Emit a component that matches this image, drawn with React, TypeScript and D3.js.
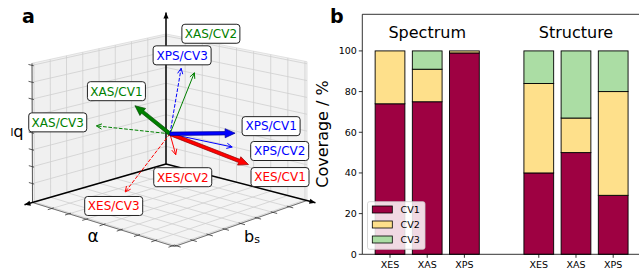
import React from "react";
import * as d3 from "d3";

// ---------------- Panel b data ----------------
const groupTitles = ["Spectrum", "Structure"];
const groupCenterSlots = [1, 5];
const methods = ["XES", "XAS", "XPS", "XES", "XAS", "XPS"];
const barSlots = [0, 1, 2, 4, 5, 6];
const cvNames = ["CV1", "CV2", "CV3"];
const cv1 = [74, 75, 99, 40, 50, 29];
const cv2 = [26, 16, 1, 44, 17, 51];
const cv3 = [0, 9, 0, 16, 33, 20];
const yTicks = [0, 20, 40, 60, 80, 100];
const cvColors = ["#9e0142", "#fee08b", "#abdda4"];

// ---------------- Panel a data ----------------
const vecLabels = ["XES/CV1", "XES/CV2", "XES/CV3", "XAS/CV1", "XAS/CV2", "XAS/CV3", "XPS/CV1", "XPS/CV2", "XPS/CV3"];
const vecAlpha = [0.89, 0.15, 0.10, -0.49, 0.14, -0.77, 0.77, 0.84, -0.10];
const vecBs = [-0.27, 0.07, 0.80, 0.02, -0.23, 0.32, -0.19, -0.07, -0.28];
const vecBl = [-0.30, -0.25, -0.60, 0.30, 0.88, 0.0, 0.15, 0.0, 0.88];
const vecCV = [1, 2, 3, 1, 2, 3, 1, 2, 3];
const gridTicks3d = [-0.75, -0.5, -0.25, 0, 0.25, 0.5, 0.75, 1.0];

// ---------------- layout ----------------
const W = 639, H = 269;
const FONT = "DejaVu Sans, Liberation Sans, sans-serif";
const specColors: Record<string, string> = { XES: "#ff0000", XAS: "#008000", XPS: "#0000ff" };
// label-box offsets (px) from arrow tips
const labelOffsets = [[31.5, 12.5], [7, 22.5], [-11.5, 14], [-18.5, -14.5], [16.5, -39], [-38.5, -3.5], [36, -7], [47.5, 4], [1, -13]];

// screen corners of the 3D box: p[a][b][c]
const BOX: Record<string, number[]> = {
  p000: [166, 164], p100: [32.5, 202.5], p010: [307, 200.5], p110: [174.5, 246.5],
  p001: [166, 34], p101: [32, 63.3], p011: [307, 61.7], p111: [174.5, 98],
};
const L = (p: number[], q: number[], t: number) => [p[0] + (q[0] - p[0]) * t, p[1] + (q[1] - p[1]) * t];
function tri(a: number, b: number, c: number) {
  const x00 = L(BOX.p000, BOX.p100, a), x10 = L(BOX.p010, BOX.p110, a);
  const x01 = L(BOX.p001, BOX.p101, a), x11 = L(BOX.p011, BOX.p111, a);
  return L(L(x00, x10, b), L(x01, x11, b), c);
}
const s3 = d3.scaleLinear().domain([-1.03, 1.03]).range([0, 1]);
const proj = (alpha: number, bs: number, bl: number) => tri(s3(bs), s3(alpha), s3(bl));

const P = (pts: number[][]) => "M" + pts.map((p) => p[0].toFixed(2) + "," + p[1].toFixed(2)).join("L");

function thickArrowPath(S: number[], T: number[], hl = 10, hw = 4.5, sw = 1.7) {
  const dx = T[0] - S[0], dy = T[1] - S[1];
  const len = Math.hypot(dx, dy);
  const ux = dx / len, uy = dy / len, nx = -uy, ny = ux;
  const B = [T[0] - ux * hl, T[1] - uy * hl];
  return P([
    [S[0] + nx * sw, S[1] + ny * sw], [B[0] + nx * sw, B[1] + ny * sw], [B[0] + nx * hw, B[1] + ny * hw], T,
    [B[0] - nx * hw, B[1] - ny * hw], [B[0] - nx * sw, B[1] - ny * sw], [S[0] - nx * sw, S[1] - ny * sw],
  ]) + "Z";
}
function headLines(S: number[], T: number[], hl = 5.5, hw = 2.6) {
  const dx = T[0] - S[0], dy = T[1] - S[1];
  const len = Math.hypot(dx, dy);
  const ux = dx / len, uy = dy / len, nx = -uy, ny = ux;
  return P([[T[0] - ux * hl + nx * hw, T[1] - uy * hl + ny * hw], T, [T[0] - ux * hl - nx * hw, T[1] - uy * hl - ny * hw]]);
}
function filledHead(S: number[], T: number[], hl = 7, hw = 3) {
  const dx = T[0] - S[0], dy = T[1] - S[1];
  const len = Math.hypot(dx, dy);
  const ux = dx / len, uy = dy / len, nx = -uy, ny = ux;
  return P([[T[0] - ux * hl + nx * hw, T[1] - uy * hl + ny * hw], T, [T[0] - ux * hl - nx * hw, T[1] - uy * hl - ny * hw]]) + "Z";
}

function Panel3D() {
  const origin = proj(0, 0, 0);
  const ticksBox = gridTicks3d.map((t) => s3(t));
  const grid: string[] = [];
  ticksBox.forEach((u) => {
    // left wall (b=0)
    grid.push(P([tri(u, 0, 0), tri(u, 0, 1)]));
    grid.push(P([tri(0, 0, u), tri(1, 0, u)]));
    // right wall (a=0)
    grid.push(P([tri(0, u, 0), tri(0, u, 1)]));
    grid.push(P([tri(0, 0, u), tri(0, 1, u)]));
    // floor (c=0)
    grid.push(P([tri(u, 0, 0), tri(u, 1, 0)]));
    grid.push(P([tri(0, u, 0), tri(1, u, 0)]));
  });
  const ticks: string[] = [];
  ticksBox.forEach((u) => {
    ticks.push(P([tri(1, -0.025, u), tri(1, 0.012, u)]));
    ticks.push(P([tri(0.985, u, 0), tri(1.03, u, 0)]));
    ticks.push(P([tri(u, 0.985, 0), tri(u, 1.03, 0)]));
  });
  const axisEnds = [tri(1.06, 0, 0), tri(0, 1.06, 0), tri(0, 0, 1.165)];
  const base = tri(0, 0, 0);

  return (
    <g>
      {/* panes */}
      <path d={P([tri(0, 0, 0), tri(1, 0, 0), tri(1, 1, 0), tri(0, 1, 0)]) + "Z"} fill="#f4f4f4" stroke="#dadada" strokeWidth={0.8} />
      <path d={P([tri(0, 0, 0), tri(1, 0, 0), tri(1, 0, 1), tri(0, 0, 1)]) + "Z"} fill="#f0f0f0" stroke="#dadada" strokeWidth={0.8} />
      <path d={P([tri(0, 0, 0), tri(0, 1, 0), tri(0, 1, 1), tri(0, 0, 1)]) + "Z"} fill="#f2f2f2" stroke="#dadada" strokeWidth={0.8} />
      {grid.map((d, i) => <path key={i} d={d} stroke="#cfcfcf" strokeWidth={0.8} fill="none" />)}
      {/* axis lines with ticks */}
      <path d={P([tri(1, 0, 0), tri(1, 0, 1)])} stroke="#333" strokeWidth={0.8} fill="none" />
      <path d={P([tri(1, 0, 0), tri(1, 1, 0)])} stroke="#555" strokeWidth={0.8} fill="none" />
      <path d={P([tri(1, 1, 0), tri(0, 1, 0)])} stroke="#555" strokeWidth={0.8} fill="none" />
      {ticks.map((d, i) => <path key={i} d={d} stroke="#333" strokeWidth={0.8} fill="none" />)}
      {/* black axis arrows */}
      {axisEnds.map((e, i) => (
        <g key={i}>
          <path d={P([base, e])} stroke="#000" strokeWidth={1.5} fill="none" />
          <path d={filledHead(base, e, 6, 2.6)} fill="#000" />
        </g>
      ))}
      {/* vectors: thin first, then thick */}
      {vecLabels.map((lab, i) => {
        if (vecCV[i] === 1) return null;
        const T = proj(vecAlpha[i], vecBs[i], vecBl[i]);
        const col = specColors[lab.slice(0, 3)];
        return (
          <g key={lab}>
            <path d={P([origin, T])} stroke={col} strokeWidth={1} fill="none" strokeDasharray={vecCV[i] === 3 ? "3.7,1.6" : undefined} />
            <path d={headLines(origin, T)} stroke={col} strokeWidth={1} fill="none" />
          </g>
        );
      })}
      {vecLabels.map((lab, i) => {
        if (vecCV[i] !== 1) return null;
        const T = proj(vecAlpha[i], vecBs[i], vecBl[i]);
        const col = specColors[lab.slice(0, 3)];
        return <path key={lab} d={thickArrowPath(origin, T)} fill={col} stroke={d3.color(col)!.darker(1.6).toString()} strokeWidth={0.7} />;
      })}
      {/* labels */}
      {vecLabels.map((lab, i) => {
        const T = proj(vecAlpha[i], vecBs[i], vecBl[i]);
        const cx = T[0] + labelOffsets[i][0], cy = T[1] + labelOffsets[i][1];
        const col = specColors[lab.slice(0, 3)];
        const bw = 58, bh = 19;
        return (
          <g key={lab}>
            <rect x={cx - bw / 2} y={cy - bh / 2} width={bw} height={bh} rx={3} fill="#fff" stroke="#222" strokeWidth={1} />
            <text x={cx} y={cy + 4.3} textAnchor="middle" fontSize={12} fill={col} fontFamily={FONT}>{lab}</text>
          </g>
        );
      })}
      {/* axis labels */}
      <text x={93} y={242} textAnchor="middle" fontSize={17} fontFamily={FONT}>α</text>
      <text x={244} y={242} fontSize={16} fontFamily={FONT}>b<tspan fontSize={11} dy={1}>s</tspan></text>
      <text transform="translate(17,133) rotate(180)" textAnchor="middle" fontSize={16} fontFamily={FONT} dominantBaseline="central">b<tspan fontSize={11} dy={1}>l</tspan></text>
      <text x={22} y={23} fontSize={19} fontWeight="bold" fontFamily={FONT}>a</text>
    </g>
  );
}

function PanelBars() {
  const x = d3.scaleLinear().domain([-0.745, 6.745]).range([362.3, 640.9]);
  const y = d3.scaleLinear().domain([0, 118]).range([254.3, 14.3]);
  const unit = x(1) - x(0);
  const bw = 0.8 * unit;
  const rows = barSlots.map((_, i) => ({ CV1: cv1[i], CV2: cv2[i], CV3: cv3[i] }));
  const stacked = d3.stack<any>().keys(cvNames)(rows);
  const x0 = x.range()[0], yTop = y.range()[1], yBot = y.range()[0];
  return (
    <g fontFamily={FONT}>
      {stacked.map((layer, li) =>
        layer.map((d, i) => (
          <rect key={li + "-" + i} x={x(barSlots[i]) - bw / 2} y={y(d[1])} width={bw} height={y(d[0]) - y(d[1])}
            fill={cvColors[li]} stroke="#000" strokeWidth={0.9} />
        ))
      )}
      <path d={`M${x0},${yTop}L${x0},${yBot}L${W + 5},${yBot}M${x0},${yTop}L${W + 5},${yTop}`} stroke="#000" strokeWidth={0.8} fill="none" />
      {yTicks.map((t) => (
        <g key={t}>
          <line x1={x0 - 3.5} x2={x0} y1={y(t)} y2={y(t)} stroke="#000" strokeWidth={0.8} />
          <text x={x0 - 5.5} y={y(t)} dy="0.35em" textAnchor="end" fontSize={9.5}>{t}</text>
        </g>
      ))}
      {barSlots.map((s, i) => (
        <g key={i}>
          <line x1={x(s)} x2={x(s)} y1={yBot} y2={yBot + 3.5} stroke="#000" strokeWidth={0.8} />
          <text x={x(s)} y={268.3} textAnchor="middle" fontSize={9.5}>{methods[i]}</text>
        </g>
      ))}
      {groupTitles.map((g, i) => (
        <text key={g} x={x(groupCenterSlots[i])} y={38} textAnchor="middle" fontSize={16}>{g}</text>
      ))}
      <text transform="translate(322,134) rotate(-90)" textAnchor="middle" dominantBaseline="central" fontSize={16}>Coverage / %</text>
      {/* legend */}
      <rect x={367.5} y={201.7} width={57.5} height={47.6} rx={2} fill="#fff" fillOpacity={0.85} stroke="#ccc" strokeWidth={0.8} />
      {cvNames.map((n, i) => (
        <g key={n}>
          <rect x={372.3} y={206 + i * 15} width={20} height={7} fill={cvColors[i]} stroke="#000" strokeWidth={0.8} />
          <text x={400.5} y={209.5 + i * 15} dy="0.35em" fontSize={9.5}>{n}</text>
        </g>
      ))}
      <text x={330} y={23} fontSize={19} fontWeight="bold">b</text>
    </g>
  );
}

export default function App() {
  return (
    <svg width={W} height={H} viewBox={`0 0 ${W} ${H}`} style={{ position: "absolute", left: 0, top: 0, background: "#fff" }}>
      <rect width={W} height={H} fill="#fff" />
      <Panel3D />
      <PanelBars />
    </svg>
  );
}
